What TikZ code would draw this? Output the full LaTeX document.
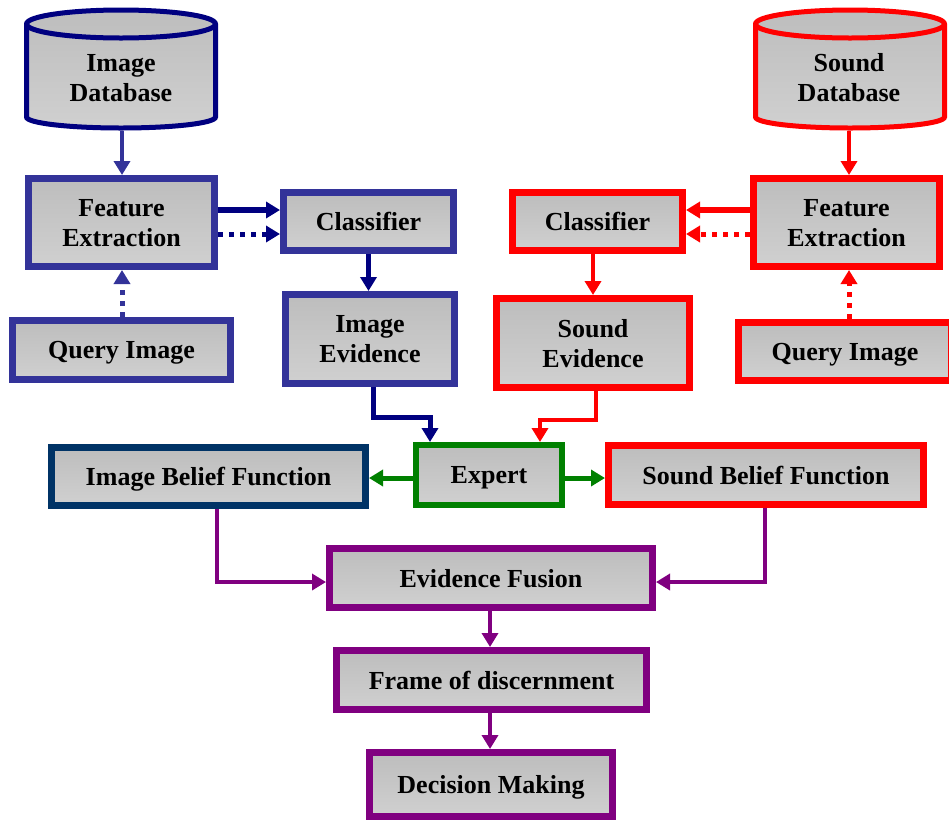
\documentclass[tikz,border=0pt]{standalone}
\usepackage{fontspec}
\setmainfont{Liberation Serif}
\usetikzlibrary{arrows.meta}
\definecolor{iblue}{HTML}{333399}
\definecolor{inavy}{HTML}{000080}
\definecolor{ibfblue}{HTML}{003366}
\definecolor{sred}{HTML}{FF0000}
\definecolor{egreen}{HTML}{008000}
\definecolor{fpurple}{HTML}{800080}
\definecolor{gtop}{HTML}{BDBDBD}
\definecolor{gbot}{HTML}{D0D0D0}
\begin{document}
\begin{tikzpicture}[x=1pt,y=1pt,
  txt/.style={align=center, font=\fontsize{26}{30}\selectfont\bfseries},
  box/.style={txt, rectangle, draw, line width=7pt, outer sep=3.5pt, inner sep=0pt,
    text depth=0pt, top color=gtop, bottom color=gbot},
  cyl/.style={line width=5pt, top color=gtop, bottom color=gbot},
  conn/.style={line width=5.5pt, -{Triangle[length=14pt,width=16pt]}},
  dotconn/.style={conn, line width=5pt, dash pattern=on 5pt off 6pt},
]
\useasboundingbox (0,0) rectangle (949,-823);

% ---------- databases ----------
\path[cyl, draw=inavy] (26.5,-24) -- (26.5,-117)
  arc[start angle=180, end angle=360, x radius=94.5, y radius=11]
  -- (215.5,-24) arc[start angle=0, end angle=180, x radius=94.5, y radius=14] -- cycle;
\draw[line width=5pt, inavy] (26.5,-24) arc[start angle=180, end angle=360, x radius=94.5, y radius=14];
\node[txt] (idb) at (121,-78) {Image\\Database};
\coordinate (idbb) at (122,-130.5);

\path[cyl, draw=sred] (755.5,-24) -- (755.5,-117)
  arc[start angle=180, end angle=360, x radius=94.5, y radius=11]
  -- (944.5,-24) arc[start angle=0, end angle=180, x radius=94.5, y radius=14] -- cycle;
\draw[line width=5pt, sred] (755.5,-24) arc[start angle=180, end angle=360, x radius=94.5, y radius=14];
\node[txt] (sdb) at (849,-78) {Sound\\Database};
\coordinate (sdbb) at (849,-130.5);

% ---------- image side ----------
\node[box, draw=iblue, minimum width=186pt, minimum height=88pt] (ifeat) at (121.5,-222.5) {Feature\\Extraction};
\node[box, draw=iblue, minimum width=170pt, minimum height=58pt] (iclass) at (368.5,-221.5) {Classifier};
\node[box, draw=iblue, minimum width=218pt, minimum height=59pt] (iquery) at (121.5,-350) {Query Image};
\node[box, draw=iblue, minimum width=169pt, minimum height=89pt] (iev) at (370,-339) {Image\\Evidence};

% ---------- sound side ----------
\node[box, draw=sred, minimum width=186pt, minimum height=88pt] (sfeat) at (846.5,-222.5) {Feature\\Extraction};
\node[box, draw=sred, minimum width=170pt, minimum height=58pt] (sclass) at (597.5,-221.5) {Classifier};
\node[box, draw=sred, minimum width=193pt, minimum height=89pt] (sev) at (593,-343) {Sound\\Evidence};
\node[box, draw=sred, minimum width=213pt, minimum height=58pt] (squery) at (845,-351.5) {Query Image};

% ---------- middle / bottom ----------
\node[box, draw=ibfblue, minimum width=314pt, minimum height=58pt] (ibf) at (208.5,-476.5) {Image Belief Function};
\node[box, draw=egreen, line width=6pt, outer sep=3pt, minimum width=146pt, minimum height=60pt] (expert) at (489,-475) {Expert};
\node[box, draw=sred, minimum width=315pt, minimum height=59pt] (sbf) at (766,-475) {Sound Belief Function};
\node[box, draw=fpurple, minimum width=323pt, minimum height=59pt] (fusion) at (491,-578) {Evidence Fusion};
\node[box, draw=fpurple, minimum width=310pt, minimum height=59pt] (frame) at (491.5,-680) {Frame of discernment};
\node[box, draw=fpurple, minimum width=243pt, minimum height=64pt] (decision) at (491,-784.5) {Decision Making};

% ---------- connectors: image side ----------
\draw[conn, line width=4.5pt, iblue] (idbb) -- (idbb |- ifeat.north);
\draw[dotconn, iblue] (iquery.north -| idbb) -- (ifeat.south -| idbb);
\draw[conn, inavy] ([yshift=12.5pt]ifeat.east) -- ([yshift=12.5pt]ifeat.east -| iclass.west);
\draw[dotconn, inavy] ([yshift=-11.5pt]ifeat.east) -- ([yshift=-11.5pt]ifeat.east -| iclass.west);
\draw[conn, inavy] (iclass.south) -- (iclass.south |- iev.north);

% ---------- connectors: sound side ----------
\draw[conn, line width=4.5pt, sred] (sdbb) -- (sdbb |- sfeat.north);
\draw[dotconn, sred] (squery.north -| sdbb) -- (sfeat.south -| sdbb);
\draw[conn, sred] ([yshift=12.5pt]sfeat.west) -- ([yshift=12.5pt]sfeat.west -| sclass.east);
\draw[dotconn, sred] ([yshift=-11.5pt]sfeat.west) -- ([yshift=-11.5pt]sfeat.west -| sclass.east);
\draw[conn, line width=4.5pt, sred] ([xshift=-4.5pt]sclass.south) -- ([xshift=-4.5pt]sclass.south |- sev.north);

% ---------- evidence to expert ----------
\draw[conn, line width=5pt, inavy] ([xshift=3pt]iev.south) -- ++(0,-30) -| ([xshift=-59pt]expert.north);
\draw[conn, line width=3.5pt, sred] ([xshift=3pt]sev.south) -- ++(0,-29) -| ([xshift=51pt]expert.north);

% ---------- expert to belief functions ----------
\draw[conn, line width=5pt, egreen] ([yshift=-3pt]expert.west) -- ([yshift=-3pt]expert.west -| ibf.east);
\draw[conn, line width=5pt, egreen] ([yshift=-3pt]expert.east) -- ([yshift=-3pt]expert.east -| sbf.west);

% ---------- fusion chain ----------
\draw[conn, line width=4pt, fpurple] ([xshift=8.5pt]ibf.south) |- ([yshift=-4pt]fusion.west);
\draw[conn, line width=4pt, fpurple] ([xshift=-1pt]sbf.south) |- ([yshift=-4pt]fusion.east);
\draw[conn, line width=4pt, fpurple] ([xshift=-1pt]fusion.south) -- ([xshift=-1pt]fusion.south |- frame.north);
\draw[conn, line width=4pt, fpurple] ([xshift=-1.5pt]frame.south) -- ([xshift=-1.5pt]frame.south |- decision.north);
\end{tikzpicture}
\end{document}
